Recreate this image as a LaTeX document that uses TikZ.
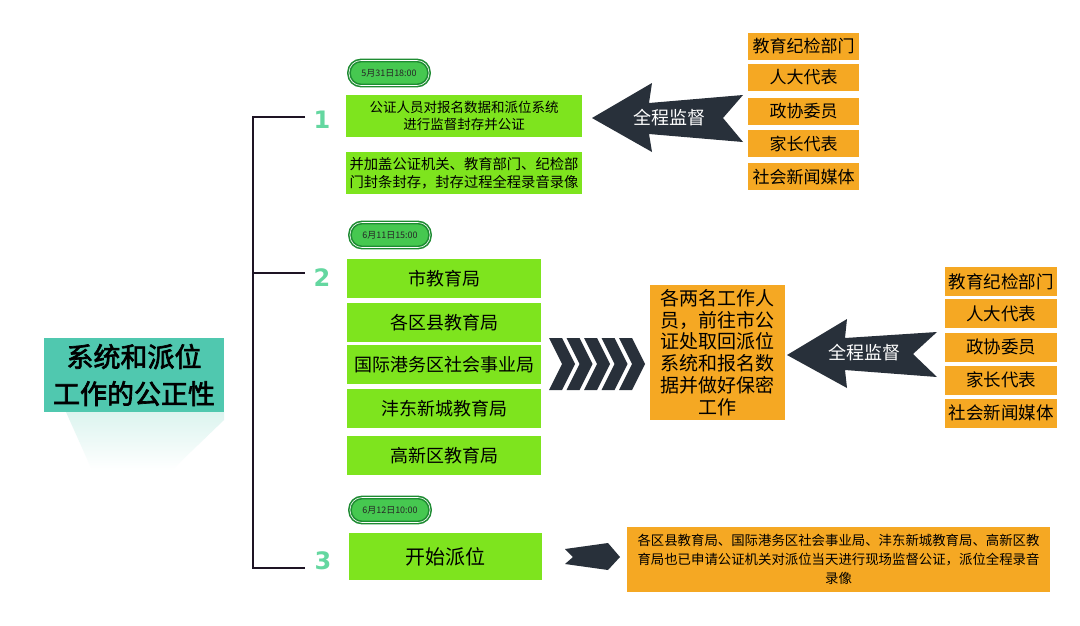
\documentclass[tikz,border=0pt]{standalone}
\usepackage{fontspec}
\setmainfont{Noto Sans CJK SC}
\newfontfamily\cjkb[FakeBold=2.5]{Noto Sans CJK SC}
\newfontfamily\numf{DejaVu Sans}
\usetikzlibrary{shadings}
\definecolor{gbox}{RGB}{126,228,30}
\definecolor{obox}{RGB}{245,168,35}
\definecolor{darkarrow}{RGB}{40,48,58}
\definecolor{teal1}{RGB}{80,200,175}
\definecolor{numgreen}{RGB}{100,215,160}
\definecolor{pillfill}{RGB}{70,200,80}
\definecolor{pillborder}{RGB}{30,140,50}
\definecolor{bracketc}{RGB}{30,20,36}
\newcommand{\fsz}[2]{\fontsize{#1}{#2}\selectfont}
\begin{document}
\begin{tikzpicture}[x=1pt,y=-1pt,
  greenbox/.style={fill=gbox, draw=none, inner sep=0pt, align=center, text=black},
  orangebox/.style={fill=obox, draw=none, inner sep=0pt, align=center, text=black},
  pill/.style={fill=pillfill, draw=pillborder, line width=1.6pt, rounded corners=12pt,
     minimum width=80pt, minimum height=25pt, inner sep=0pt, text=black!85,
     font=\fsz{9}{10}, double=white, double distance=0.6pt},
  numlabel/.style={text=numgreen, font=\numf\bfseries\fsz{24}{24}, inner sep=0pt},
  darkshape/.style={fill=darkarrow, draw=none},
  bracket/.style={draw=bracketc, line width=2.2pt}
]
\useasboundingbox (0,0) rectangle (1080,625);
\fill[white] (0,0) rectangle (1080,625);

% title shadow
\shade[top color=teal1!20, bottom color=white] (66,412) -- (224,412) -- (224,420) -- (172,470) -- (92,470) -- cycle;
\node[fill=teal1, minimum width=180pt, minimum height=74pt, inner sep=0pt, align=center,
  font=\cjkb\fsz{27}{37}] (title) at (134,375) {系统和派位\\工作的公正性};

% bracket
\coordinate (bt) at (253,117);
\coordinate (bm) at (253,273);
\coordinate (bb) at (253,568);
\coordinate (et) at (305,117);
\coordinate (em) at (305,273);
\coordinate (eb) at (305,568);
\draw[bracket] (et) -- (bt) -- (bb) -- (eb);
\draw[bracket] (bm) -- (em);

\node[numlabel] (n1) at (322,120) {1};
\node[numlabel] (n2) at (322,278) {2};
\node[numlabel] (n3) at (323,561) {3};

% section 1
\node[pill] (p1) at (389,73) {5月31日18:00};
\node[greenbox, minimum width=236pt, minimum height=42pt, font=\fsz{13.5}{17}] (b1) at (464,116)
  {公证人员对报名数据和派位系统\\进行监督封存并公证};
\node[greenbox, minimum width=236pt, minimum height=42pt, font=\fsz{14.3}{18.5}] (b1b) at (464,173)
  {并加盖公证机关、教育部门、纪检部\\门封条封存，封存过程全程录音录像};

\fill[darkarrow] (592,118) -- (652,83) -- (649,103) -- (743,95) -- (723,118) -- (743,142) -- (649,134) -- (652,152) -- cycle;
\node[text=white, font=\fsz{18}{18}, inner sep=0pt] (a1) at (669,118) {全程监督};

\foreach \t/\y [count=\i] in {教育纪检部门/46.5, 人大代表/77.5, 政协委员/111, 家长代表/143.5, 社会新闻媒体/176.5}{
  \node[orangebox, minimum width=111pt, minimum height=27pt, font=\fsz{17}{17}] (r1\i) at (803.5,\y) {\t};
}

% section 2
\node[pill] (p2) at (390,235) {6月11日15:00};
\foreach \t/\y [count=\i] in {市教育局/278.5, 各区县教育局/322.5, 国际港务区社会事业局/364.5, 沣东新城教育局/408.5, 高新区教育局/455.5}{
  \node[greenbox, minimum width=194pt, minimum height=39pt, font=\fsz{18}{18}] (g\i) at (444,\y) {\t};
}
\foreach \k in {0,...,4}{
  \pgfmathsetmacro{\xx}{549+17.5*\k}
  \fill[darkarrow] (\xx,338) -- (\xx+13,338) -- (\xx+26,364) -- (\xx+13,390) -- (\xx,390) -- (\xx+13,364) -- cycle;
}
\node[orangebox, minimum width=135pt, minimum height=135pt, text width=118pt, font=\fsz{19}{21.7}] (oc) at (717.5,352.5)
  {各两名工作人\\员，前往市公\\证处取回派位\\系统和报名数\\据并做好保密\\工作};

\fill[darkarrow] (787,355) -- (847,319) -- (845,338) -- (937,332) -- (913,354) -- (937,377) -- (845,370) -- (847,388) -- cycle;
\node[text=white, font=\fsz{18}{18}, inner sep=0pt] (a2) at (864,353) {全程监督};

\foreach \t/\y [count=\i] in {教育纪检部门/281.5, 人大代表/313.5, 政协委员/347, 家长代表/380, 社会新闻媒体/413}{
  \node[orangebox, minimum width=112pt, minimum height=29pt, font=\fsz{17.5}{17.5}] (r2\i) at (1001,\y) {\t};
}

% section 3
\node[pill] (p3) at (390,510) {6月12日10:00};
\node[greenbox, minimum width=193pt, minimum height=47pt, font=\fsz{20}{20}] (b3) at (445.5,556.5) {开始派位};
\fill[darkarrow] (565,549) -- (608,543) -- (620,557) -- (608,570) -- (565,564) -- (573,557) -- cycle;
\node[orangebox, minimum width=423pt, minimum height=65pt, text width=420pt, font=\fsz{13.4}{19}] (ob) at (838.5,559.5)
  {各区县教育局、国际港务区社会事业局、沣东新城教育局、高新区教\\育局也已申请公证机关对派位当天进行现场监督公证，派位全程录音\\录像};
\end{tikzpicture}
\end{document}
